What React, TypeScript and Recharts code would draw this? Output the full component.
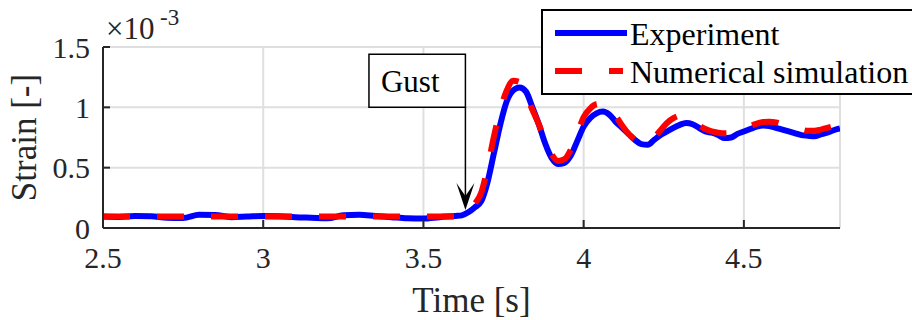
import React from "react";
import {
  LineChart,
  Line,
  XAxis,
  YAxis,
  CartesianGrid,
  ReferenceLine,
  ReferenceArea,
} from "recharts";

// time [s]
const time = [
  2.5, 2.55, 2.6, 2.65, 2.7, 2.75, 2.8, 2.85, 2.9, 2.95, 3.0, 3.05, 3.1, 3.15,
  3.2, 3.25, 3.3, 3.35, 3.4, 3.45, 3.5, 3.55, 3.6, 3.62, 3.64, 3.66, 3.68, 3.7,
  3.72, 3.74, 3.76, 3.78, 3.8, 3.82, 3.84, 3.86, 3.88, 3.9, 3.92, 3.94, 3.96,
  3.98, 4.0, 4.02, 4.04, 4.06, 4.08, 4.1, 4.12, 4.14, 4.16, 4.18, 4.2, 4.22,
  4.24, 4.26, 4.28, 4.3, 4.32, 4.34, 4.36, 4.38, 4.4, 4.42, 4.44, 4.46, 4.48,
  4.5, 4.52, 4.54, 4.56, 4.58, 4.6, 4.62, 4.64, 4.66, 4.68, 4.7, 4.72, 4.74,
  4.76, 4.78, 4.8,
];

// strain x 1e-3
const experiment = [
  0.095, 0.092, 0.1, 0.098, 0.085, 0.083, 0.11, 0.108, 0.09, 0.095, 0.1, 0.098,
  0.09, 0.085, 0.08, 0.105, 0.11, 0.1, 0.09, 0.08, 0.078, 0.09, 0.1, 0.105,
  0.13, 0.17, 0.22, 0.38, 0.62, 0.86, 1.05, 1.14, 1.165, 1.13, 1.0, 0.86, 0.7,
  0.58, 0.53, 0.54, 0.6, 0.72, 0.84, 0.91, 0.95, 0.965, 0.94, 0.88, 0.83, 0.78,
  0.73, 0.695, 0.69, 0.73, 0.77, 0.8, 0.83, 0.855, 0.87, 0.86, 0.83, 0.8, 0.79,
  0.77, 0.745, 0.75, 0.78, 0.8, 0.82, 0.84, 0.85, 0.845, 0.83, 0.815, 0.8,
  0.785, 0.77, 0.765, 0.76, 0.775, 0.79, 0.81, 0.825,
];

const simulation = [
  0.095, 0.095, 0.095, 0.095, 0.095, 0.095, 0.095, 0.095, 0.095, 0.095, 0.095,
  0.095, 0.095, 0.095, 0.095, 0.095, 0.095, 0.095, 0.095, 0.095, 0.095, 0.095,
  0.095, 0.098, 0.13, 0.2, 0.29, 0.5, 0.76, 0.98, 1.14, 1.22, 1.21, 1.1, 0.98,
  0.86, 0.72, 0.61, 0.555, 0.57, 0.65, 0.78, 0.92, 0.99, 1.025, 1.03, 1.0, 0.93,
  0.85, 0.78, 0.73, 0.705, 0.71, 0.75, 0.81, 0.87, 0.91, 0.93, 0.92, 0.89,
  0.85, 0.82, 0.8, 0.79, 0.785, 0.79, 0.8, 0.82, 0.845, 0.865, 0.878, 0.88,
  0.875, 0.86, 0.845, 0.83, 0.815, 0.805, 0.805, 0.815, 0.83, 0.845, 0.86,
];

const xTicks = [2.5, 3, 3.5, 4, 4.5];
const yTicks = [0, 0.5, 1, 1.5];
const seriesNames = ["Experiment", "Numerical simulation"];
const gustTime = 3.631;

const data = time.map((t, i) => ({
  t,
  exp: experiment[i],
  sim: simulation[i],
}));

const FONT = "'Liberation Serif', 'Times New Roman', serif";
const AXIS = "#262626";

function XTick(props: any) {
  const { x, y, payload } = props;
  return (
    <g>
      <line x1={x} x2={x} y1={y} y2={y - 8} stroke={AXIS} strokeWidth={2} />
      <text
        x={x}
        y={y + 40}
        textAnchor="middle"
        fontSize={30}
        fontFamily={FONT}
        fill={AXIS}
      >
        {payload.value}
      </text>
    </g>
  );
}

function YTick(props: any) {
  const { x, y, payload } = props;
  return (
    <g>
      <line x1={x} x2={x + 7} y1={y} y2={y} stroke={AXIS} strokeWidth={2} />
      <text
        x={x - 13}
        y={y}
        dy="0.35em"
        textAnchor="end"
        fontSize={30}
        fontFamily={FONT}
        fill={AXIS}
      >
        {payload.value}
      </text>
    </g>
  );
}

function GustArrow(props: any) {
  const { x1, y1, x2, y2 } = props;
  const notch = y2 - 14;
  return (
    <g>
      <line x1={x1} y1={y1} x2={x2} y2={notch} stroke="#000" strokeWidth={1.5} />
      <polygon
        points={`${x2},${y2} ${x2 - 9},${y2 - 27} ${x2},${notch} ${x2 + 9},${y2 - 27}`}
        fill="#000"
      />
    </g>
  );
}

export default function App() {
  return (
    <div style={{ position: "relative", width: 912, height: 320, background: "#fff" }}>
      <style>{"body{margin:0}"}</style>
      <LineChart
        width={912}
        height={320}
        data={data}
        margin={{ top: 47, right: 72, bottom: 0, left: 0 }}
      >
        <CartesianGrid stroke="#dfdfdf" strokeWidth={2} />
        <XAxis
          dataKey="t"
          type="number"
          domain={[2.5, 4.8]}
          ticks={xTicks}
          height={92}
          axisLine={{ stroke: AXIS, strokeWidth: 2 }}
          tickLine={false}
          tickSize={0}
          tickMargin={0}
          tick={<XTick />}
          interval={0}
          allowDataOverflow
          label={{
            content: (p: any) => (
              <text
                x={p.viewBox.x + p.viewBox.width / 2}
                y={p.viewBox.y + 84}
                textAnchor="middle"
                fontSize={35}
                fontFamily={FONT}
                fill={AXIS}
              >
                Time [s]
              </text>
            ),
          }}
        />
        <YAxis
          type="number"
          domain={[0, 1.5]}
          ticks={yTicks}
          width={103}
          axisLine={{ stroke: AXIS, strokeWidth: 2 }}
          tickLine={false}
          tickSize={0}
          tickMargin={0}
          tick={<YTick />}
          interval={0}
          allowDataOverflow
          label={{
            content: (p: any) => {
              const cx = 36;
              const cy = p.viewBox.y + p.viewBox.height / 2;
              return (
                <text
                  x={cx}
                  y={cy}
                  transform={`rotate(-90, ${cx}, ${cy})`}
                  textAnchor="middle"
                  fontSize={35}
                  fontFamily={FONT}
                  fill={AXIS}
                >
                  Strain [-]
                </text>
              );
            },
          }}
        />
        <ReferenceArea
          x1={3.33}
          x2={gustTime}
          y1={1.0}
          y2={1.44}
          fill="#fff"
          fillOpacity={1}
          stroke="#000"
          strokeWidth={1.5}
          label={{
            value: "Gust",
            position: "insideLeft",
            offset: 12,
            fontSize: 31,
            fontFamily: FONT,
            fill: "#000",
          }}
        />
        <ReferenceLine
          segment={[
            { x: gustTime, y: 1.0 },
            { x: gustTime, y: 0.15 },
          ]}
          shape={<GustArrow />}
        />
        <Line
          dataKey="exp"
          name={seriesNames[0]}
          type="monotone"
          stroke="#0000ff"
          strokeWidth={6}
          dot={false}
          isAnimationActive={false}
        />
        <Line
          dataKey="sim"
          name={seriesNames[1]}
          type="monotone"
          stroke="#ff0000"
          strokeWidth={6}
          strokeDasharray="27 27"
          dot={false}
          isAnimationActive={false}
        />
      </LineChart>
      <svg
        width={912}
        height={320}
        style={{ position: "absolute", left: 0, top: 0, pointerEvents: "none" }}
      >
        <text x={106} y={39} fontSize={31} fontFamily={FONT} fill={AXIS}>
          ×10
          <tspan x={160} y={25} fontSize={23}>
            -3
          </tspan>
        </text>
        <rect x={542} y={10} width={400} height={84} fill="#fff" stroke="#000" strokeWidth={2} />
        <line x1={555} x2={627} y1={33} y2={33} stroke="#0000ff" strokeWidth={6} />
        <text x={630} y={45} fontSize={32} fontFamily={FONT} fill="#000">
          {seriesNames[0]}
        </text>
        <line
          x1={555}
          x2={623}
          y1={71}
          y2={71}
          stroke="#ff0000"
          strokeWidth={6}
          strokeDasharray="27 27"
        />
        <text x={630} y={83} fontSize={32} fontFamily={FONT} fill="#000">
          {seriesNames[1]}
        </text>
      </svg>
    </div>
  );
}
